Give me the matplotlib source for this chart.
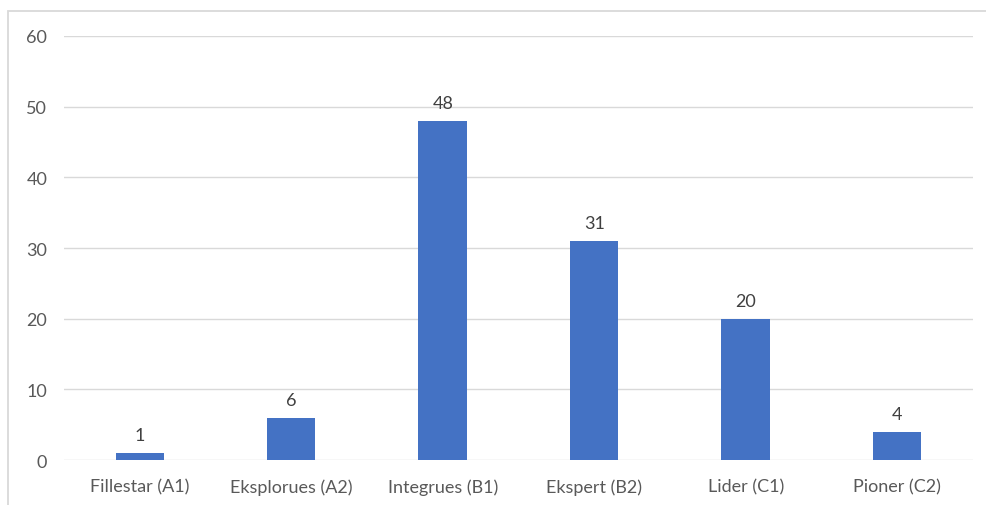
import matplotlib.pyplot as plt
from matplotlib.patches import Rectangle

categories = ["Fillestar (A1)", "Eksplorues (A2)", "Integrues (B1)",
              "Ekspert (B2)", "Lider (C1)", "Pioner (C2)"]
counts = [1, 6, 48, 31, 20, 4]
y_ticks = [0, 10, 20, 30, 40, 50, 60]

plt.rcParams["font.family"] = ["Lato", "DejaVu Sans"]

fig = plt.figure(figsize=(9.86, 5.06), dpi=100)
ax = fig.add_axes([0.0649, 0.0889, 0.9219, 0.838])

# outer chart frame, only the top and left edges fall inside the canvas
fig.patches.append(Rectangle((8 / 986, -0.1), 1.2, 1.1 - 12 / 506,
                             transform=fig.transFigure, fill=False,
                             edgecolor="#D9D9D9", linewidth=1.3))

x = range(len(categories))
bars = ax.bar(x, counts, width=0.32, color="#4472C4", zorder=3)
for bar, n in zip(bars, counts):
    ax.annotate(str(n), (bar.get_x() + bar.get_width() / 2, n),
                xytext=(0, 7), textcoords="offset points",
                ha="center", va="bottom", fontsize=13, color="#404040")

ax.set_xlim(-0.5, len(categories) - 0.5)
ax.set_ylim(0, 60)
ax.set_yticks(y_ticks)
ax.set_xticks(list(x))
ax.set_xticklabels(categories)
ax.grid(True, axis="y", color="#D9D9D9", linewidth=1.0, zorder=0)
for spine in ax.spines.values():
    spine.set_visible(False)
ax.tick_params(length=0, colors="#595959", labelsize=13)
ax.tick_params(axis="y", pad=12)
ax.tick_params(axis="x", pad=13)

fig.savefig("out.png", dpi=100, facecolor="white")
